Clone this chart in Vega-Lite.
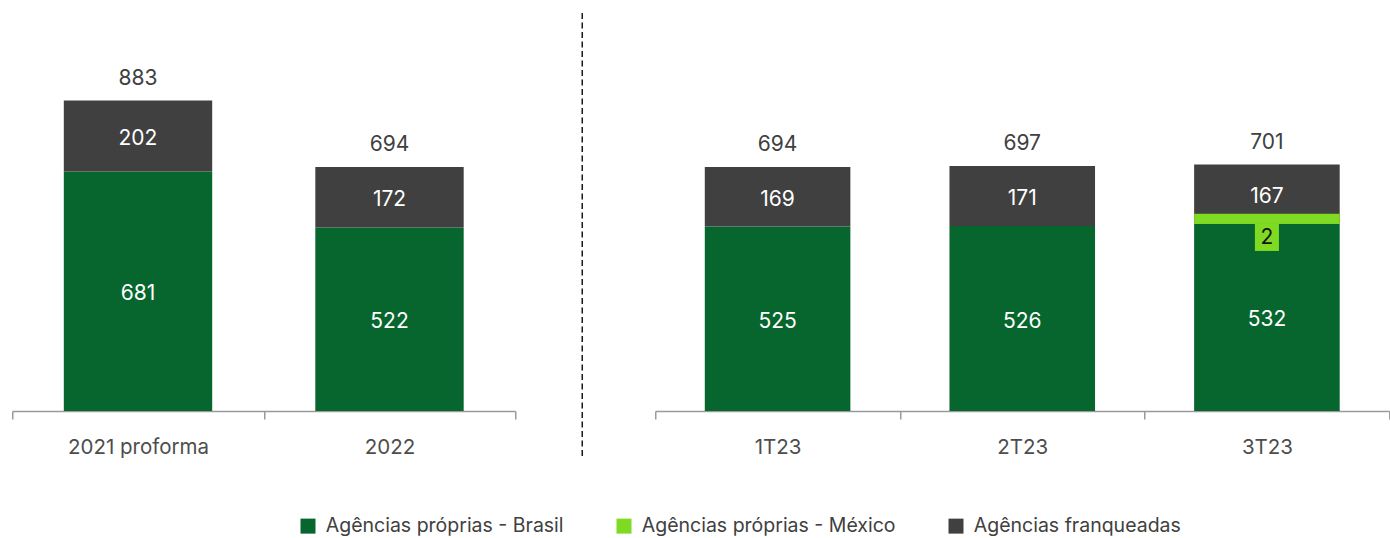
{
  "$schema": "https://vega.github.io/schema/vega-lite/v6.json",
  "padding": {"left": 11.25, "top": 12, "right": 0, "bottom": 0},
  "autosize": {"type": "pad"},
  "background": "white",
  "bounds": "flush",
  "spacing": 67,
  "config": {
    "view": {"stroke": null},
    "font": "Inter",
    "axis": {"labelFont": "Inter"}
  },
  "datasets": {
    "agencias": [
      {"period": "2021 proforma", "group": "anual", "type": "Agências próprias - Brasil", "seq": 1, "value": 681},
      {"period": "2021 proforma", "group": "anual", "type": "Agências franqueadas", "seq": 3, "value": 202},
      {"period": "2022", "group": "anual", "type": "Agências próprias - Brasil", "seq": 1, "value": 522},
      {"period": "2022", "group": "anual", "type": "Agências franqueadas", "seq": 3, "value": 172},
      {"period": "1T23", "group": "trimestral", "type": "Agências próprias - Brasil", "seq": 1, "value": 525},
      {"period": "1T23", "group": "trimestral", "type": "Agências franqueadas", "seq": 3, "value": 169},
      {"period": "2T23", "group": "trimestral", "type": "Agências próprias - Brasil", "seq": 1, "value": 526},
      {"period": "2T23", "group": "trimestral", "type": "Agências franqueadas", "seq": 3, "value": 171},
      {"period": "3T23", "group": "trimestral", "type": "Agências próprias - Brasil", "seq": 1, "value": 532},
      {"period": "3T23", "group": "trimestral", "type": "Agências próprias - México", "seq": 2, "value": 2},
      {"period": "3T23", "group": "trimestral", "type": "Agências franqueadas", "seq": 3, "value": 167}
    ],
    "divisor": [{"divisor": "anual | trimestral"}]
  },
  "resolve": {"scale": {"color": "shared"}, "legend": {"color": "shared"}},
  "hconcat": [
    {
      "width": 503,
      "height": 398,
      "data": {"name": "agencias"},
      "transform": [
        {"filter": "datum.group == 'anual'"},
        {"stack": "value", "groupby": ["period"], "sort": [{"field": "seq", "order": "ascending"}], "as": ["v0", "v1"]},
        {"calculate": "(datum.v0 + datum.v1) / 2", "as": "labelPos"}
      ],
      "encoding": {
        "x": {
          "field": "period", "type": "nominal", "sort": null, "title": null,
          "scale": {"paddingInner": 0, "paddingOuter": 0},
          "axis": {"labelAngle": 0, "labelFontSize": 20.5, "labelColor": "#4d4d4d", "labelPadding": 18, "domainColor": "#9a9a9a", "domainWidth": 1.5, "tickColor": "#9a9a9a", "tickWidth": 1.5, "tickSize": 8, "tickBand": "extent"}
        }
      },
      "layer": [
        {
          "mark": {"type": "bar", "width": {"band": 0.59}},
          "encoding": {
            "y": {"field": "v0", "type": "quantitative", "scale": {"domain": [0, 1132], "nice": false}, "axis": null},
            "y2": {"field": "v1"},
            "color": {
              "field": "type", "type": "nominal",
              "scale": {"domain": ["Agências próprias - Brasil", "Agências próprias - México", "Agências franqueadas"], "range": ["#06662d", "#7edb22", "#404040"]},
              "legend": {"orient": "none", "legendX": 286, "legendY": 503, "direction": "horizontal", "title": null, "symbolType": "square", "symbolSize": 225, "symbolStrokeWidth": 0, "labelFontSize": 19.5, "labelFont": "Inter", "labelColor": "#404040", "columnPadding": 50, "labelOffset": 8, "labelLimit": 400}
            }
          }
        },
        {
          "mark": {"type": "text", "color": "white", "fontSize": 21, "baseline": "middle", "dy": 3},
          "encoding": {
            "y": {"field": "labelPos", "type": "quantitative", "scale": {"domain": [0, 1132], "nice": false}, "axis": null},
            "text": {"field": "value", "type": "quantitative"}
          }
        },
        {
          "mark": {"type": "text", "color": "#404040", "fontSize": 21, "baseline": "bottom", "dy": -12},
          "encoding": {
            "y": {"aggregate": "sum", "field": "value", "type": "quantitative", "scale": {"domain": [0, 1132], "nice": false}, "axis": null},
            "text": {"aggregate": "sum", "field": "value", "type": "quantitative"}
          }
        }
      ]
    },
    {
      "width": 6,
      "height": 398,
      "data": {"name": "divisor"},
      "mark": {"type": "rule", "color": "#1a1a1a", "strokeWidth": 1.5, "strokeDash": [6, 3.5]},
      "encoding": {"x": {"value": 0}, "y": {"value": 0}, "y2": {"value": 443}}
    },
    {
      "width": 734,
      "height": 398,
      "data": {"name": "agencias"},
      "transform": [
        {"filter": "datum.group == 'trimestral'"},
        {"stack": "value", "groupby": ["period"], "sort": [{"field": "seq", "order": "ascending"}], "as": ["v0", "v1"]},
        {"calculate": "(datum.v0 + datum.v1) / 2", "as": "labelPos"}
      ],
      "encoding": {
        "x": {
          "field": "period", "type": "nominal", "sort": null, "title": null,
          "scale": {"paddingInner": 0, "paddingOuter": 0},
          "axis": {"labelAngle": 0, "labelFontSize": 20.5, "labelColor": "#4d4d4d", "labelPadding": 18, "domainColor": "#9a9a9a", "domainWidth": 1.5, "tickColor": "#9a9a9a", "tickWidth": 1.5, "tickSize": 8, "tickBand": "extent"}
        }
      },
      "layer": [
        {
          "mark": {"type": "bar", "width": {"band": 0.595}},
          "encoding": {
            "y": {"field": "v0", "type": "quantitative", "scale": {"domain": [0, 1132], "nice": false}, "axis": null},
            "y2": {"field": "v1"},
            "color": {
              "field": "type", "type": "nominal",
              "scale": {"domain": ["Agências próprias - Brasil", "Agências próprias - México", "Agências franqueadas"], "range": ["#06662d", "#7edb22", "#404040"]}
            }
          }
        },
        {
          "transform": [{"filter": "datum.seq == 2"}],
          "mark": {"type": "tick", "color": "#7edb22", "thickness": 10, "size": 145.6, "yOffset": -4.5, "opacity": 1},
          "encoding": {
            "y": {"field": "v1", "type": "quantitative", "scale": {"domain": [0, 1132], "nice": false}, "axis": null}
          }
        },
        {
          "transform": [{"filter": "datum.seq != 2"}],
          "mark": {"type": "text", "color": "white", "fontSize": 21, "baseline": "middle", "dy": 3},
          "encoding": {
            "y": {"field": "labelPos", "type": "quantitative", "scale": {"domain": [0, 1132], "nice": false}, "axis": null},
            "text": {"field": "value", "type": "quantitative"}
          }
        },
        {
          "transform": [{"filter": "datum.seq == 2"}],
          "mark": {"type": "point", "shape": "M-0.89,-1H0.89V1H-0.89Z", "size": 729, "filled": true, "color": "#7edb22", "opacity": 1, "yOffset": 13.5},
          "encoding": {
            "y": {"field": "v0", "type": "quantitative", "scale": {"domain": [0, 1132], "nice": false}, "axis": null}
          }
        },
        {
          "transform": [{"filter": "datum.seq == 2"}],
          "mark": {"type": "text", "color": "#111111", "fontSize": 21, "baseline": "middle", "yOffset": 14.5},
          "encoding": {
            "y": {"field": "v0", "type": "quantitative", "scale": {"domain": [0, 1132], "nice": false}, "axis": null},
            "text": {"field": "value", "type": "quantitative"}
          }
        },
        {
          "mark": {"type": "text", "color": "#404040", "fontSize": 21, "baseline": "bottom", "dy": -12},
          "encoding": {
            "y": {"aggregate": "sum", "field": "value", "type": "quantitative", "scale": {"domain": [0, 1132], "nice": false}, "axis": null},
            "text": {"aggregate": "sum", "field": "value", "type": "quantitative"}
          }
        }
      ]
    }
  ]
}
